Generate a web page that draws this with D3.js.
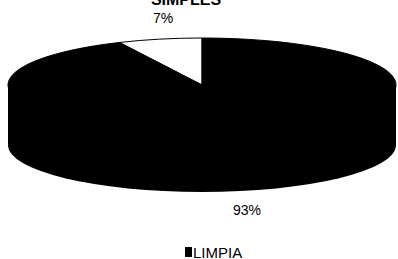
<!DOCTYPE html>
<html><head><meta charset="utf-8">
<script src="https://cdn.jsdelivr.net/npm/d3@7"></script>
<style>body{margin:0;background:#fff}svg{display:block;font-family:Arial,"Liberation Sans",sans-serif}</style>
</head><body>
<script>
const categories = ["SUCIA", "LIMPIA"];
const values = [7, 93];
const labels = ["7%", "93%"];
const colors = ["#ffffff", "#000000"];
const legendItems = ["LIMPIA"];
const title = "SIMPLES";

const W = 398, H = 259;
const cx = 202, cy = 85, rx = 194, ry = 47, depth = 60;
const svg = d3.select("body").append("svg").attr("width", W).attr("height", H);

svg.append("text").attr("x", 186).attr("y", 5).attr("text-anchor", "middle")
  .attr("font-weight", "bold").attr("font-size", 16).text(title);

const total = d3.sum(values);
const pie = d3.pie().sort(null).value(d => d)
  .startAngle(-2 * Math.PI * values[0] / total)
  .endAngle(2 * Math.PI - 2 * Math.PI * values[0] / total);
const arcs = pie(values);

// side wall
svg.append("ellipse").attr("cx", cx).attr("cy", cy + depth).attr("rx", rx).attr("ry", ry).attr("fill", "#000");
svg.append("rect").attr("x", cx - rx).attr("y", cy).attr("width", 2 * rx).attr("height", depth).attr("fill", "#000");

const arc = d3.arc().innerRadius(0).outerRadius(rx);
const topG = svg.append("g").attr("transform", `translate(${cx},${cy}) scale(1,${ry / rx})`);
topG.selectAll("path").data(arcs).join("path")
  .attr("d", arc).attr("fill", (d, i) => colors[i])
  .attr("stroke", "#000").attr("stroke-width", 1).attr("vector-effect", "non-scaling-stroke");

// labels
const labelPos = [[163, 23], [247, 215]];
svg.selectAll("text.lbl").data(labels).join("text").attr("class", "lbl")
  .attr("x", (d, i) => labelPos[i][0]).attr("y", (d, i) => labelPos[i][1])
  .attr("text-anchor", "middle").attr("font-size", 14).text(d => d);

// legend
const lg = svg.append("g").attr("transform", "translate(185,247)");
lg.selectAll("rect").data(legendItems).join("rect")
  .attr("x", 0).attr("y", 0).attr("width", 7).attr("height", 10).attr("fill", "#000");
lg.selectAll("text").data(legendItems).join("text")
  .attr("x", 8).attr("y", 10.5).attr("font-size", 15).text(d => d);
</script>
</body></html>
